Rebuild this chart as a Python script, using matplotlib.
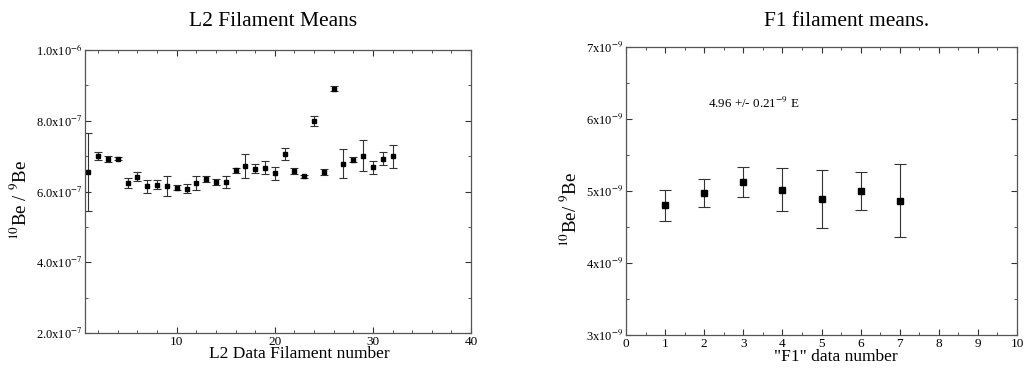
import matplotlib
matplotlib.use("Agg")
import matplotlib.pyplot as plt
from matplotlib.ticker import FixedLocator, MultipleLocator
import numpy as np

plt.rcParams['font.family'] = ['Liberation Serif', 'DejaVu Serif']
plt.rcParams['mathtext.fontset'] = 'stix'

# ---- L2 data ----
l2_x = list(range(1, 33))
l2_y = [6.56, 7.00, 6.91, 6.93, 6.24, 6.42, 6.15, 6.19, 6.15, 6.11,
        6.08, 6.24, 6.36, 6.27, 6.27, 6.60, 6.72, 6.65, 6.67, 6.51,
        7.06, 6.58, 6.43, 7.99, 6.55, 8.91, 6.79, 6.90, 7.01, 6.68,
        6.93, 6.99]
l2_err = [1.10, 0.12, 0.09, 0.05, 0.13, 0.12, 0.18, 0.13, 0.29, 0.07,
          0.12, 0.20, 0.09, 0.08, 0.18, 0.07, 0.33, 0.13, 0.18, 0.18,
          0.16, 0.08, 0.05, 0.14, 0.09, 0.08, 0.40, 0.08, 0.44, 0.19,
          0.18, 0.33]
l2_yticks = [2e-7, 4e-7, 6e-7, 8e-7, 1e-6]
l2_yticklabels = ["2.0x10$^{-7}$", "4.0x10$^{-7}$", "6.0x10$^{-7}$",
                  "8.0x10$^{-7}$", "1.0x10$^{-6}$"]
l2_xticks = [10, 20, 30, 40]

# ---- F1 data ----
f1_x = [1, 2, 3, 4, 5, 6, 7]
f1_y = [4.80, 4.97, 5.13, 5.01, 4.89, 5.00, 4.86]
f1_lo = [4.58, 4.78, 4.92, 4.72, 4.49, 4.74, 4.36]
f1_hi = [5.02, 5.16, 5.34, 5.32, 5.29, 5.27, 5.37]
f1_yticks = [3e-9, 4e-9, 5e-9, 6e-9, 7e-9]
f1_yticklabels = ["3x10$^{-9}$", "4x10$^{-9}$", "5x10$^{-9}$",
                  "6x10$^{-9}$", "7x10$^{-9}$"]
f1_xticks = list(range(0, 11))

W, H = 1027, 376
fig = plt.figure(figsize=(W / 100, H / 100), dpi=100)

def style(ax):
    for s in ax.spines.values():
        s.set_linewidth(0.9)
        s.set_color('#555555')
    ax.tick_params(which='both', direction='in', top=True, right=True,
                   labelsize=9, pad=2, color='#333333')
    ax.tick_params(axis='x', labelsize=9.5)
    ax.tick_params(which='major', length=4)
    ax.tick_params(which='minor', length=2.5)

# Left panel
ax1 = fig.add_axes([85 / W, 1 - 333 / H, 386 / W, 283 / H])
ax1.errorbar(l2_x, np.array(l2_y) * 1e-7, yerr=np.array(l2_err) * 1e-7,
             fmt='s', color='black', ms=3.5, ecolor='#333333', elinewidth=0.8,
             capsize=3, capthick=0.8)
ax1.set_xlim(0.65, 40)
ax1.set_ylim(2e-7, 1e-6)
ax1.yaxis.set_major_locator(FixedLocator(l2_yticks))
ax1.set_yticklabels(l2_yticklabels)
ax1.yaxis.set_minor_locator(MultipleLocator(1e-7))
ax1.xaxis.set_major_locator(FixedLocator(l2_xticks))
ax1.set_xticklabels([str(t) for t in l2_xticks])
ax1.xaxis.set_minor_locator(MultipleLocator(2))
style(ax1)
fig.text(273 / W, 1 - 22 / H, "L2 Filament Means", fontsize=15.5,
         ha='center', va='center')
fig.text(299 / W, 1 - 354 / H, "L2 Data Filament number", fontsize=12.5,
         ha='center', va='center')
fig.text(20 / W, 1 - 200 / H, "$^{10}$Be / $^{9}$Be", fontsize=13.5,
         rotation=90, ha='center', va='center')

# Right panel
ax2 = fig.add_axes([626 / W, 1 - 335 / H, 391 / W, 288 / H])
yv = np.array(f1_y)
ax2.errorbar(f1_x, yv * 1e-9,
             yerr=[(yv - np.array(f1_lo)) * 1e-9, (np.array(f1_hi) - yv) * 1e-9],
             fmt='s', color='black', ms=4.5, ecolor='#333333', elinewidth=0.8,
             capsize=4, capthick=0.8)
ax2.set_xlim(0, 10)
ax2.set_ylim(3e-9, 7e-9)
ax2.yaxis.set_major_locator(FixedLocator(f1_yticks))
ax2.set_yticklabels(f1_yticklabels)
ax2.yaxis.set_minor_locator(MultipleLocator(0.5e-9))
ax2.xaxis.set_major_locator(FixedLocator(f1_xticks))
ax2.set_xticklabels([str(t) for t in f1_xticks])
ax2.xaxis.set_minor_locator(MultipleLocator(0.5))
style(ax2)
ax2.text(2.1, 6.21e-9, "4.96 +/- 0.21$^{-9}$ E", fontsize=9.4, ha='left', va='center')
fig.text(847 / W, 1 - 22 / H, "F1 filament means.", fontsize=15.5,
         ha='center', va='center')
fig.text(836 / W, 1 - 357 / H, "\"F1\" data number", fontsize=12.5,
         ha='center', va='center')
fig.text(570 / W, 1 - 209 / H, "$^{10}$Be/ $^{9}$Be", fontsize=13.5,
         rotation=90, ha='center', va='center')

fig.savefig("out.png", dpi=100)
